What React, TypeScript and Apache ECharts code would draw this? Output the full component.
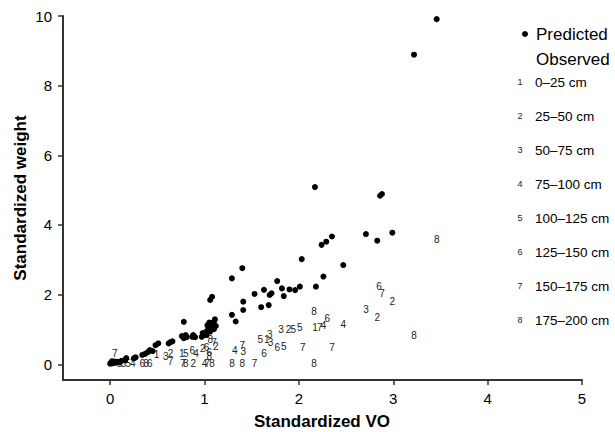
import React, { useEffect, useRef } from "react";
import * as echarts from "echarts";

// Predicted (standardized VO, standardized weight)
const predictedX = [
  0.0, 0.01, 0.02, 0.03, 0.04, 0.05, 0.06, 0.08, 0.1, 0.02, 0.12, 0.16, 0.17, 0.25, 0.27,
  0.34, 0.37, 0.4, 0.42, 0.45, 0.48, 0.51, 0.62, 0.64, 0.66,
  0.76, 0.78, 0.8, 0.81, 0.78, 0.87, 0.9, 0.88,
  0.97, 1.0, 1.02, 1.02, 1.04, 1.06, 1.06, 1.08, 1.1, 1.1, 1.11, 1.12, 1.05, 1.06, 1.08, 0.98, 1.03,
  1.29, 1.33, 1.29, 1.4, 1.41, 1.41, 1.53, 1.6, 1.63, 1.68, 1.69, 1.71, 1.77, 1.82, 1.84, 1.9,
  1.96, 2.01, 2.03, 2.18, 2.26, 2.47, 2.17, 2.24, 2.29, 2.35, 2.71, 2.83, 2.99, 2.86, 2.88,
  3.22, 3.46,
];
const predictedY = [
  0.02, 0.05, 0.03, 0.06, 0.04, 0.08, 0.05, 0.07, 0.06, 0.09, 0.1, 0.12, 0.18, 0.17, 0.2,
  0.27, 0.3, 0.35, 0.41, 0.38, 0.55, 0.6, 0.6, 0.64, 0.66,
  0.81, 0.75, 0.84, 0.78, 1.22, 0.79, 0.78, 0.84,
  0.79, 0.84, 0.84, 0.94, 1.03, 0.94, 1.08, 1.18, 1.01, 1.22, 1.29, 1.1, 1.2, 1.85, 1.94, 0.9, 1.12,
  1.42, 1.23, 2.47, 2.76, 1.8, 1.56, 2.02, 1.64, 2.14, 1.7, 1.99, 2.04, 2.39, 2.18, 1.96, 2.15,
  2.13, 2.23, 3.02, 2.23, 2.52, 2.85, 5.09, 3.43, 3.52, 3.67, 3.74, 3.55, 3.78, 4.84, 4.89,
  8.89, 9.91,
];

// Observed, with depth class (1..8)
const observedX = [
  0.1, 0.14, 0.19, 0.24, 0.34, 0.38, 0.42,
  0.05, 0.49, 0.59, 0.64, 0.64,
  0.76, 0.8, 0.87, 0.91,
  0.98, 1.02, 1.06, 1.1, 1.12, 1.05, 1.05,
  0.77, 0.8, 0.88, 1.0, 1.03, 1.08,
  1.29, 1.4, 1.53,
  1.32, 1.4, 1.41, 1.63,
  1.59, 1.66, 1.69, 1.7, 1.77, 1.84,
  1.81, 1.89, 1.94, 2.01,
  2.04, 2.35,
  2.16, 2.3, 2.17, 2.22, 2.26, 2.47,
  2.16,
  3.46, 2.85, 2.88, 2.99, 2.71, 2.83, 3.22,
];
const observedY = [
  0.03, 0.03, 0.03, 0.03, 0.03, 0.03, 0.03,
  0.32, 0.27, 0.22, 0.3, 0.08,
  0.3, 0.3, 0.4, 0.3,
  0.45, 0.48, 0.7, 0.62, 0.5, 0.33, 0.22,
  0.03, 0.03, 0.03, 0.03, 0.03, 0.03,
  0.03, 0.03, 0.03,
  0.41, 0.53, 0.36, 0.32,
  0.7, 0.72, 0.87, 0.62, 0.48, 0.51,
  1.0, 1.0, 1.0, 1.06,
  0.48, 0.48,
  1.51, 1.32, 1.06, 1.06, 1.12, 1.15,
  0.03,
  3.57, 2.23, 2.02, 1.8, 1.56, 1.34, 0.84,
];
const observedClass = [
  3, 3, 5, 4, 6, 8, 6,
  7, 1, 3, 2, 7,
  1, 5, 6, 4,
  2, 6, 8, 7, 2, 6, 8,
  7, 8, 2, 4, 7, 8,
  8, 8, 7,
  4, 7, 3, 6,
  5, 1, 3, 3, 6, 5,
  3, 2, 5, 5,
  7, 7,
  8, 6, 1, 7, 4, 4,
  8,
  8, 6, 7, 2, 3, 2, 8,
];

const depthLabels = [
  "0–25 cm", "25–50 cm", "50–75 cm", "75–100 cm",
  "100–125 cm", "125–150 cm", "150–175 cm", "175–200 cm",
];
const xTicks = [0, 1, 2, 3, 4, 5];
const yTicks = [0, 2, 4, 6, 8, 10];

const FONT = "'Liberation Sans', Arial, Helvetica, sans-serif";

export default function App() {
  const ref = useRef<HTMLDivElement>(null);
  useEffect(() => {
    if (!ref.current) return;
    document.body.style.margin = "0";
    const chart = echarts.init(ref.current, undefined, { renderer: "svg" });

    const legendGraphics: any[] = [
      { type: "circle", shape: { cx: 525, cy: 34, r: 3 }, style: { fill: "#000" } },
      {
        type: "text", x: 536, y: 34,
        style: { text: "Predicted", fontSize: 17, fontFamily: FONT, fill: "#000", verticalAlign: "middle", align: "left" },
      },
      {
        type: "text", x: 536, y: 59,
        style: { text: "Observed", fontSize: 17, fontFamily: FONT, fill: "#000", verticalAlign: "middle", align: "left" },
      },
    ];
    depthLabels.forEach((lab, i) => {
      const y = 82 + 34 * i;
      legendGraphics.push({
        type: "text", x: 520, y,
        style: { text: String(i + 1), fontSize: 9, fontFamily: FONT, fill: "#222", verticalAlign: "middle", align: "center" },
      });
      legendGraphics.push({
        type: "text", x: 535, y,
        style: { text: lab, fontSize: 13.5, fontFamily: FONT, fill: "#000", verticalAlign: "middle", align: "left" },
      });
    });

    const axisLine = { show: true, onZero: false, lineStyle: { color: "#333", width: 2 } };

    chart.setOption({
      animation: false,
      backgroundColor: "#fff",
      grid: { left: 63, right: 33, top: 16, bottom: 52 },
      xAxis: {
        type: "value", min: -0.5, max: 5,
        axisLine,
        axisTick: { show: true, length: 5, lineStyle: { color: "#333", width: 1.5 }, customValues: xTicks },
        axisLabel: { customValues: xTicks, fontSize: 15, color: "#000", fontFamily: FONT, margin: 11 },
        splitLine: { show: false },
      },
      yAxis: {
        type: "value", min: -0.45, max: 10,
        axisLine,
        axisTick: { show: true, length: 5, lineStyle: { color: "#333", width: 1.5 }, customValues: yTicks },
        axisLabel: { customValues: yTicks, fontSize: 15, color: "#000", fontFamily: FONT, margin: 11 },
        splitLine: { show: false },
      },
      graphic: [
        {
          type: "text", x: 322, y: 421,
          style: { text: "Standardized VO", fontSize: 17, fontWeight: "bold", fontFamily: FONT, fill: "#000", align: "center", verticalAlign: "middle" },
        },
        {
          type: "text", x: 20, y: 198, rotation: Math.PI / 2,
          style: { text: "Standardized weight", fontSize: 17, fontWeight: "bold", fontFamily: FONT, fill: "#000", align: "center", verticalAlign: "middle" },
        },
        ...legendGraphics,
      ],
      series: [
        {
          name: "Observed",
          type: "scatter",
          symbol: "circle",
          symbolSize: 1,
          itemStyle: { color: "rgba(0,0,0,0)", opacity: 1 },
          data: observedX.map((x, i) => [x, observedY[i], observedClass[i]]),
          label: {
            show: true, position: "inside",
            formatter: (p: any) => String(p.value[2]),
            fontSize: 10, color: "#222", fontFamily: FONT,
          },
          z: 2,
        },
        {
          name: "Predicted",
          type: "scatter",
          symbol: "circle",
          symbolSize: 6,
          itemStyle: { color: "#000", opacity: 1 },
          data: predictedX.map((x, i) => [x, predictedY[i]]),
          z: 3,
        },
      ],
    });
    return () => chart.dispose();
  }, []);
  return <div ref={ref} style={{ width: 615, height: 432 }} />;
}
